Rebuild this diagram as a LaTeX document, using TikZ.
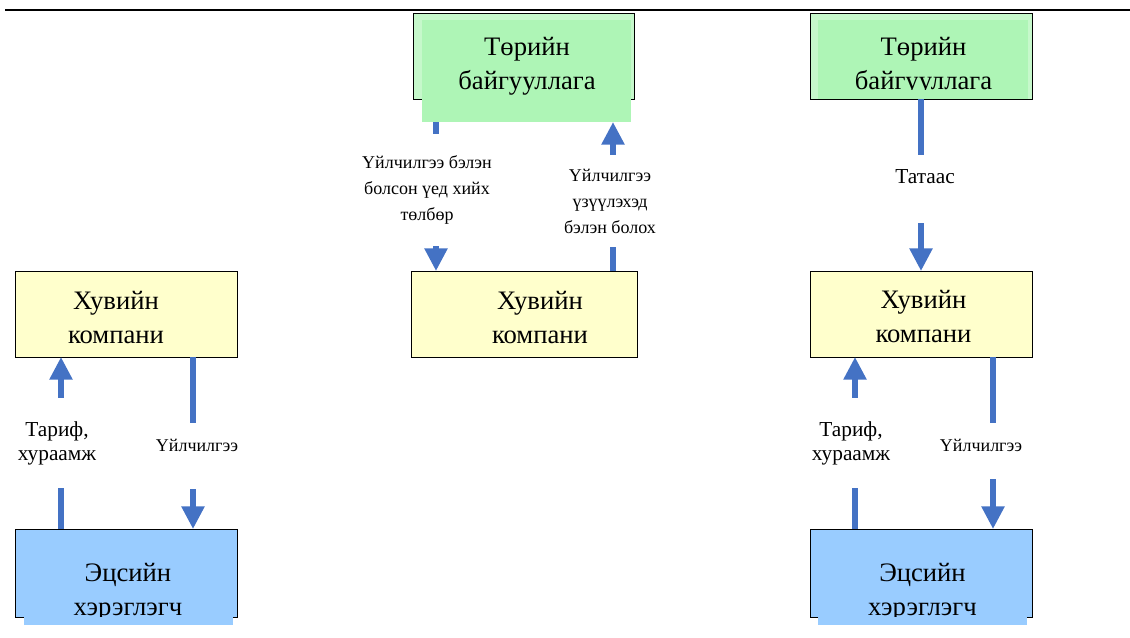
\documentclass[tikz,border=0pt]{standalone}
\usepackage{fontspec}
\setmainfont{Liberation Serif}
\usetikzlibrary{arrows.meta}

\definecolor{govgreen}{HTML}{AEF5B6}
\definecolor{govpale}{HTML}{C6F8CB}
\definecolor{firmyellow}{HTML}{FFFFCC}
\definecolor{userblue}{HTML}{99CCFF}
\definecolor{flowblue}{HTML}{4472C4}

\newcommand\boxfont{\fontsize{20pt}{25.5pt}\selectfont}
\newcommand\tagfont{\fontsize{16pt}{18pt}\selectfont}
\newcommand\notefont{\fontsize{13.5pt}{19.5pt}\selectfont}

\begin{document}
\begin{tikzpicture}
[
    x = 0.75pt, y = -0.75pt,
    every node/.append style = {inner sep = 0, outer sep = 0},
    frame/.style = {draw, line width = 0.75pt, minimum width = 166pt, minimum height = 64.5pt},
    govframe/.style = {frame, fill = govpale},
    firmbox/.style = {frame, fill = firmyellow},
    userframe/.style = {frame, fill = userblue, minimum height = 66pt},
    govfill/.style = {fill = govgreen, minimum width = 157pt},
    userfill/.style = {fill = userblue, minimum width = 156.75pt, minimum height = 71.25pt},
    boxtext/.style = {font = \boxfont, align = center},
    flow/.style = {draw = flowblue, line width = 4.1pt, -{Triangle[width = 16.5pt, length = 17pt]}},
    tag/.style = {fill = white, inner xsep = 2pt, align = center, font = \tagfont},
    note/.style = {fill = white, inner xsep = 2pt, align = center, font = \notefont}
]
\useasboundingbox (0,0) rectangle (1130,637);

% rule across the top
\draw[line width = 1.5pt] (5,10) -- (1130,10);

% government
\node[govframe] (gov1 frame) at (524,56) {};
\node[govfill, minimum height = 76.5pt] (gov1) at (526.5,71) {};
\node[boxtext] (gov1 text) at (527,66) {Төрийн\\байгууллага};

\node[govframe] (gov2 frame) at (921.5,56) {};
\node[govfill, minimum height = 59.25pt] (gov2) at (923,59.5) {};
\begin{scope}
    \clip (818,20) rectangle (1028,89);
    \node[boxtext] (gov2 text) at (923.5,66) {Төрийн\\байгууллага};
\end{scope}

% private companies
\node[firmbox] (firm1) at (126.5,314) {};
\node[boxtext] (firm1 text) at ([shift = {(-10.5,3)}]firm1) {Хувийн\\компани};
\node[firmbox, minimum width = 169.5pt] (firm2) at (524,314) {};
\node[boxtext] (firm2 text) at ([shift = {(16,3)}]firm2) {Хувийн\\компани};
\node[firmbox] (firm3) at (921.5,314) {};
\node[boxtext] (firm3 text) at ([shift = {(2,2)}]firm3) {Хувийн\\компани};

% end users
\node[userframe] (user1) at (126.5,573) {};
\node[userfill] (user1 fill) at (128.5,577.5) {};
\node[userframe] (user2) at (921.5,573) {};
\node[userfill] (user2 fill) at (922.5,577.5) {};
\begin{scope}
    \clip (16,529) rectangle (1032,616);
    \node[boxtext] (user1 text) at (128,592) {Эцсийн\\хэрэглэгч};
    \node[boxtext] (user2 text) at (922.5,592) {Эцсийн\\хэрэглэгч};
\end{scope}

% flows, left
\draw[flow] (61,0 |- user1.north) -- (61,0 |- firm1.south)
    node[tag, pos = 0.5, xshift = -3pt, minimum height = 68pt] {Тариф,\\хураамж};
\draw[flow] (193,0 |- firm1.south) -- (193,0 |- user1.north)
    node[note, pos = 0.576, xshift = 3pt, text height = 21pt, text depth = 28.5pt] {Үйлчилгээ};

% flows, middle
\draw[flow] (436,0 |- gov1.south) -- (436,0 |- firm2.north)
    node[note, pos = 0.455, xshift = -6.75pt, minimum height = 84pt] {Үйлчилгээ бэлэн\\болсон үед хийх\\төлбөр};
\draw[flow] (613,0 |- firm2.north) -- (613,0 |- gov1.south)
    node[note, pos = 0.47, xshift = -2.25pt, minimum height = 69pt] {Үйлчилгээ\\үзүүлэхэд\\бэлэн болох};

% flows, right
\draw[flow] (921,0 |- gov2.south) -- (921,0 |- firm3.north)
    node[tag, pos = 0.523, xshift = 3pt, text height = 21.75pt, text depth = 29.25pt] {Татаас};
\draw[flow] (855,0 |- user2.north) -- (855,0 |- firm3.south)
    node[tag, pos = 0.5, xshift = -3pt, minimum height = 68pt] {Тариф,\\хураамж};
\draw[flow] (993,0 |- firm3.south) -- (993,0 |- user2.north)
    node[note, pos = 0.547, xshift = -9pt, text height = 21pt, text depth = 21pt] {Үйлчилгээ};

\end{tikzpicture}
\end{document}
